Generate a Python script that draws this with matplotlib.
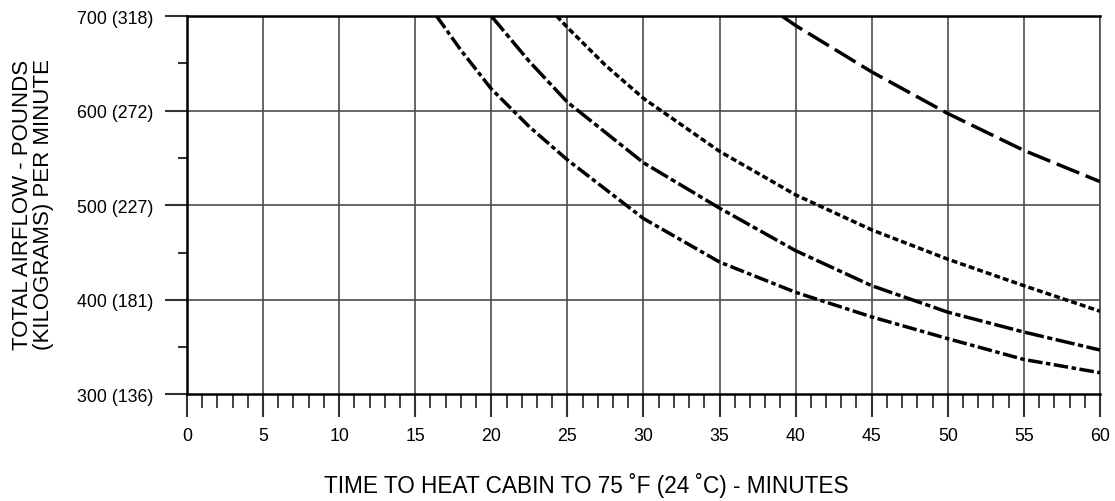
import numpy as np
import matplotlib.pyplot as plt

plt.rcParams['font.family'] = ['Liberation Sans', 'DejaVu Sans']

# curves (minutes, lb/min)
t_a = [16.4, 18, 20, 22.5, 25, 30, 35, 40, 45, 50, 55, 60]
q_a = [700, 664, 623, 583, 548, 486, 440, 408, 382, 359, 337, 323]

t_b = [20, 22.5, 25, 30, 35, 40, 45, 50, 55, 60]
q_b = [700, 652, 609, 545, 497, 452, 415, 387, 366, 347]

t_c = [24.3, 25, 27.5, 30, 35, 40, 45, 50, 55, 60]
q_c = [700, 688, 648, 613, 557, 511, 474, 443, 415, 388]

t_d = [39.1, 40, 45, 50, 55, 60]
q_d = [700, 690, 641, 597, 558, 525]

x_major = np.arange(0, 61, 5)
y_major = [300, 400, 500, 600, 700]
y_labels = ["300 (136)", "400 (181)", "500 (227)", "600 (272)", "700 (318)"]

fig = plt.figure(figsize=(11.15, 5.02), dpi=100)
ax = fig.add_axes([0.1677, 0.2122, 0.8188, 0.7538])

ax.set_xlim(0, 60)
ax.set_ylim(300, 700)

grid_c = "#4d4d4d"
for x in x_major[1:]:
    ax.axvline(x, color=grid_c, lw=1.2, zorder=1)
for y in y_major[1:-1]:
    ax.axhline(y, color=grid_c, lw=1.2, zorder=1)

lw = 2.5
ax.plot(t_a, q_a, color="black", lw=lw, dashes=(4.2, 1.0, 1.3, 1.0), zorder=3)
ax.plot(t_b, q_b, color="black", lw=lw, dashes=(5.6, 1.0, 1.5, 1.0), zorder=3)
ax.plot(t_c, q_c, color="black", lw=lw, dashes=(1.7, 0.9), zorder=3)
ax.plot(t_d, q_d, color="black", lw=lw, dashes=(7, 2), zorder=3)

for s in ["left", "bottom", "top"]:
    ax.spines[s].set_linewidth(1.8)
    ax.spines[s].set_color("black")
ax.spines["right"].set_color(grid_c)
ax.spines["right"].set_linewidth(1.2)

ax.set_xticks(x_major)
ax.set_xticks(np.arange(0, 61, 1), minor=True)
ax.set_yticks(y_major)
ax.set_yticklabels(y_labels)
ax.set_yticks([350, 450, 550, 650], minor=True)

ax.tick_params(axis="x", which="major", direction="out", length=16.5, width=1.5,
               pad=7, labelsize=12.8, color="#333333")
ax.tick_params(axis="x", which="minor", direction="out", length=10, width=1.3,
               color="#333333")
ax.tick_params(axis="y", which="major", direction="out", length=16, width=1.5,
               pad=8, labelsize=12.8, color="#333333")
ax.tick_params(axis="y", which="minor", direction="out", length=6.5, width=1.5,
               color="#333333")

fig.text(0.526, 0.033, "TIME TO HEAT CABIN TO 75 \u02daF (24 \u02daC) - MINUTES",
         ha="center", va="center", fontsize=16.3)
fig.text(0.0296, 0.592, "TOTAL AIRFLOW - POUNDS\n(KILOGRAMS) PER MINUTE",
         ha="center", va="center", rotation=90, fontsize=16, linespacing=0.95)

fig.savefig("out.png", dpi=100)
